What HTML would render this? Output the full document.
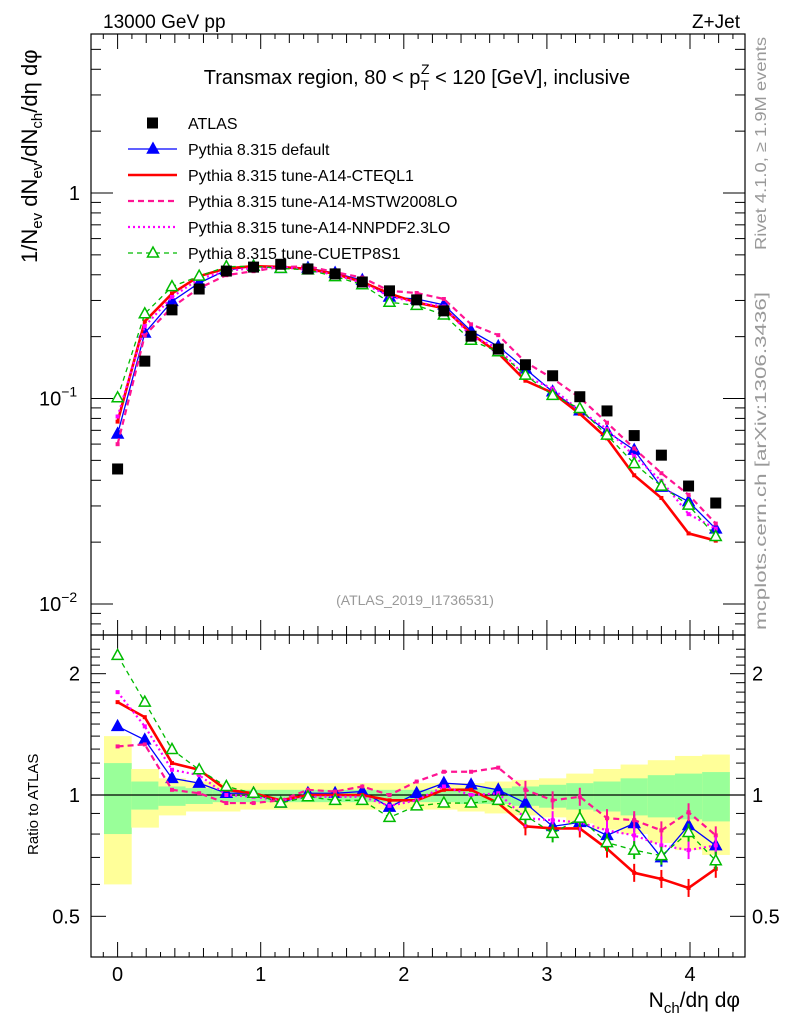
<!DOCTYPE html>
<html><head><meta charset="utf-8"><style>
body{margin:0;background:#fff;}
svg{display:block;font-family:"Liberation Sans",sans-serif;}
</style></head><body>
<svg id="c" width="786" height="1024" viewBox="0 0 786 1024" xmlns="http://www.w3.org/2000/svg">
<g id="bands"></g>
<g id="axes"></g>
<g id="series"></g>
<text x="103" y="28" font-size="19">13000 GeV pp</text>
<text x="740" y="28" font-size="19" text-anchor="end">Z+Jet</text>
<text x="417" y="84" font-size="20" text-anchor="middle">Transmax region, 80 &lt; p<tspan font-size="14" dy="6">T</tspan><tspan font-size="14" dx="-8" dy="-16">Z</tspan><tspan dy="10"> &lt; 120 [GeV], inclusive</tspan></text>
<text x="415" y="605" font-size="14" fill="#999" text-anchor="middle">(ATLAS_2019_I1736531)</text>
<text transform="translate(766,250) rotate(-90)" font-size="16" fill="#999" textLength="213" lengthAdjust="spacingAndGlyphs">Rivet 4.1.0, ≥ 1.9M events</text>
<text transform="translate(766,630) rotate(-90)" font-size="16" fill="#999" textLength="338" lengthAdjust="spacingAndGlyphs">mcplots.cern.ch [arXiv:1306.3436]</text>
<text transform="translate(37,263) rotate(-90)" font-size="22">1/N<tspan font-size="15" dy="5">ev</tspan><tspan dy="-5"> dN</tspan><tspan font-size="15" dy="5">ev</tspan><tspan dy="-5">/dN</tspan><tspan font-size="15" dy="5">ch</tspan><tspan dy="-5">/dη dφ</tspan></text>
<text transform="translate(38,855) rotate(-90)" font-size="15">Ratio to ATLAS</text>
<text x="740" y="1007" font-size="21" text-anchor="end">N<tspan font-size="15" dy="6">ch</tspan><tspan dy="-6">/dη dφ</tspan></text>
<g id="legend"></g>
</svg>
<script>
const xVals=[0,0.19,0.38,0.57,0.76,0.95,1.14,1.33,1.52,1.71,1.9,2.09,2.28,2.47,2.66,2.85,3.04,3.23,3.42,3.61,3.8,3.99,4.18];
const atlas=[0.0454,0.152,0.27,0.341,0.417,0.436,0.45,0.427,0.404,0.369,0.334,0.302,0.267,0.201,0.174,0.146,0.129,0.102,0.087,0.066,0.053,0.0375,0.031];
const rDefault=[1.48,1.37,1.10,1.07,1.01,1.01,0.955,1.01,1.01,1.02,0.933,1.01,1.07,1.06,1.03,0.955,0.836,0.855,0.794,0.85,0.699,0.84,0.749];
const rCteq=[1.70,1.56,1.20,1.155,1.03,1.01,0.97,1.0,1.0,1.0,0.97,0.97,1.03,1.03,0.955,0.836,0.826,0.826,0.736,0.641,0.619,0.588,0.656];
const rMstw=[1.32,1.335,1.03,1.01,0.955,0.955,0.97,1.03,1.02,1.05,1.0,1.08,1.142,1.142,1.169,1.03,0.97,0.99,0.876,0.866,0.817,0.906,0.794];
const rNnpdf=[1.80,1.48,1.155,1.12,1.0,0.99,0.97,0.99,0.99,0.99,0.94,0.97,1.05,1.0,1.01,0.876,0.866,0.855,0.817,0.794,0.75,0.73,0.75];
const rCuetp=[2.22,1.70,1.297,1.155,1.05,1.01,0.955,0.99,0.97,0.97,0.88,0.94,0.955,0.955,0.97,0.89,0.803,0.876,0.762,0.73,0.707,0.807,0.687];
const yelHi=[1.40,1.16,1.10,1.08,1.07,1.07,1.07,1.07,1.07,1.07,1.07,1.07,1.07,1.07,1.08,1.09,1.10,1.13,1.16,1.19,1.22,1.25,1.26];
const yelLo=[0.60,0.83,0.89,0.91,0.91,0.92,0.92,0.92,0.92,0.92,0.92,0.92,0.92,0.91,0.90,0.89,0.88,0.85,0.82,0.80,0.76,0.73,0.71];
const grnHi=[1.20,1.08,1.05,1.04,1.03,1.03,1.03,1.03,1.03,1.03,1.03,1.03,1.03,1.04,1.04,1.05,1.06,1.07,1.08,1.10,1.12,1.13,1.14];
const grnLo=[0.80,0.92,0.94,0.95,0.96,0.96,0.96,0.96,0.96,0.96,0.96,0.96,0.96,0.95,0.95,0.94,0.93,0.92,0.91,0.89,0.88,0.87,0.86];
const xTicks=[0,1,2,3,4];
const ratioTicks=[0.5,1,2];

const NS='http://www.w3.org/2000/svg';
const L=91,R=745,T=34,M=635,B=957;
const X=v=>117.6+143.1*v;
const Y=v=>193-205.5*Math.log10(v);
const YR=r=>795-403*Math.log10(r);
const halfBin=0.095;
function mk(tag,attrs,parent){const e=document.createElementNS(NS,tag);for(const k in attrs)e.setAttribute(k,attrs[k]);parent.appendChild(e);return e;}
const bands=document.getElementById('bands'),axes=document.getElementById('axes'),ser=document.getElementById('series'),leg=document.getElementById('legend');

for(let i=0;i<xVals.length;i++){
  const x0=X(xVals[i]-halfBin),x1=X(xVals[i]+halfBin);
  const y1=mk('rect',{x:x0,y:YR(yelHi[i]),width:x1-x0+0.5,height:YR(yelLo[i])-YR(yelHi[i]),fill:'#ffff99'},bands);
  
  
  const g1=mk('rect',{x:x0,y:YR(grnHi[i]),width:x1-x0+0.5,height:YR(grnLo[i])-YR(grnHi[i]),fill:'#99ff99'},bands);
  
  
}

const f1=mk('rect',{x:L,y:T,width:R-L,height:M-T,fill:'none',stroke:'#000','stroke-width':1.2},axes);


const f2=mk('rect',{x:L,y:M,width:R-L,height:B-M,fill:'none',stroke:'#000','stroke-width':1.2},axes);


const one=mk('line',{x1:L,x2:R,y1:YR(1),y2:YR(1),stroke:'#000','stroke-width':1.2},axes);



for(let n=-2;n<=45;n++){
  const vv=n/10;const x=X(vv);if(x<=L||x>=R)continue;
  const len=(n%10===0)?15:(n%2===0?9:5);
  for(const [yb,d] of [[M,-1],[T,1],[B,-1],[M,1]]){mk('line',{x1:x,x2:x,y1:yb,y2:yb+d*len,stroke:'#000'},axes);}
}
xTicks.forEach(v=>{const t=mk('text',{x:X(v),y:981,'font-size':20,'text-anchor':'middle'},axes);t.textContent=v;

});

for(let d=-3;d<=0;d++){for(let k=1;k<10;k++){const v=k*Math.pow(10,d);const y=Y(v);if(y<T||y>M)continue;const len=k==1?22:10;
mk('line',{x1:L,x2:L+len,y1:y,y2:y,stroke:'#000'},axes);mk('line',{x1:R,x2:R-len,y1:y,y2:y,stroke:'#000'},axes);}}
const ml=[[1,'1',''],[0.1,'10','−1'],[0.01,'10','−2']];
ml.forEach(([v,b,e])=>{const t=mk('text',{x:e?58:80,y:Y(v)+7,'font-size':20,'text-anchor':e?'start':'end'},axes);
if(e){t.setAttribute('x',39);}
t.textContent=b;
if(e){const s=mk('tspan',{'font-size':14,dy:-9},t);s.textContent=e;}

});

[0.5,0.6,0.7,0.8,0.9,1,2].forEach(r=>{const y=YR(r);const len=(r==0.5||r==1||r==2)?15:9;
mk('line',{x1:L,x2:L+len,y1:y,y2:y,stroke:'#000'},axes);mk('line',{x1:R,x2:R-len,y1:y,y2:y,stroke:'#000'},axes);});
for(let k=11;k<=23;k++){const y=YR(k/10);if(y<M||k==20)continue;mk('line',{x1:L,x2:L+9,y1:y,y2:y,stroke:'#000'},axes);mk('line',{x1:R,x2:R-9,y1:y,y2:y,stroke:'#000'},axes);}
ratioTicks.forEach(r=>{for(const [x,a] of [[80,'end'],[752,'start']]){const t=mk('text',{x:x,y:YR(r)+7,'font-size':20,'text-anchor':a},axes);t.textContent=r;

}});

const defs=[
 {name:'pythia-default',r:rDefault,color:'#0000ff',w:1.3,dash:'',marker:'tri',fill:true},
 {name:'pythia-a14-cteql1',r:rCteq,color:'#ff0000',w:2.6,dash:'',marker:'none'},
 {name:'pythia-a14-mstw2008lo',r:rMstw,color:'#ff1493',w:2.2,dash:'6,4',marker:'none'},
 {name:'pythia-a14-nnpdf23lo',r:rNnpdf,color:'#ff00ff',w:2.2,dash:'2,3',marker:'none'},
 {name:'pythia-cuetp8s1',r:rCuetp,color:'#00bb00',w:1.3,dash:'5,4',marker:'tri',fill:false}
];
function tri(g,x,y,c,fill){mk('polygon',{points:`${x},${y-6} ${x-5.5},${y+4} ${x+5.5},${y+4}`,fill:fill?c:'#fff',stroke:c,'stroke-width':1.5},g);}
defs.forEach(s=>{
  const g=mk('g',{},ser);
  
  
  const main=xVals.map((x,i)=>[X(x),Y(atlas[i]*s.r[i])]);
  const rat=xVals.map((x,i)=>[X(x),YR(s.r[i])]);
  for(const pts of [main,rat]){
    mk('polyline',{points:pts.map(p=>p.join(',')).join(' '),fill:'none',stroke:s.color,'stroke-width':s.w,'stroke-dasharray':s.dash},g);
    pts.forEach((p,i)=>{
      if(pts===rat&&i>14){mk('line',{x1:p[0],x2:p[0],y1:p[1]-9,y2:p[1]+9,stroke:s.color,'stroke-width':2},g);}
      if(s.marker==='tri')tri(g,p[0],p[1],s.color,s.fill);
      else mk('rect',{x:p[0]-2,y:p[1]-2,width:4,height:4,fill:s.color},g);
    });
  }
});
const ag=mk('g',{},ser);


xVals.forEach((x,i)=>{mk('rect',{x:X(x)-5.5,y:Y(atlas[i])-5.5,width:11,height:11,fill:'#000'},ag);});

const lrows=[['ATLAS','#000','','sq',true,0],['Pythia 8.315 default','#0000ff','','tri',true,1.3],['Pythia 8.315 tune-A14-CTEQL1','#ff0000','','none',true,2.6],
['Pythia 8.315 tune-A14-MSTW2008LO','#ff1493','6,4','none',true,2.2],['Pythia 8.315 tune-A14-NNPDF2.3LO','#ff00ff','2,3','none',true,2.2],['Pythia 8.315 tune-CUETP8S1','#00bb00','5,4','tri',false,1.3]];
lrows.forEach((r,i)=>{const y=123+26*i;const g=mk('g',{},leg);


if(r[5])mk('line',{x1:128,x2:177,y1:y,y2:y,stroke:r[1],'stroke-width':r[5],'stroke-dasharray':r[2]},g);
if(r[3]==='sq')mk('rect',{x:147,y:y-5.5,width:11,height:11,fill:'#000'},g);
if(r[3]==='tri')tri(g,153,y,r[1],r[4]);
const t=mk('text',{x:188,y:y+6,'font-size':16},g);t.textContent=r[0];});
</script>
</body></html>
